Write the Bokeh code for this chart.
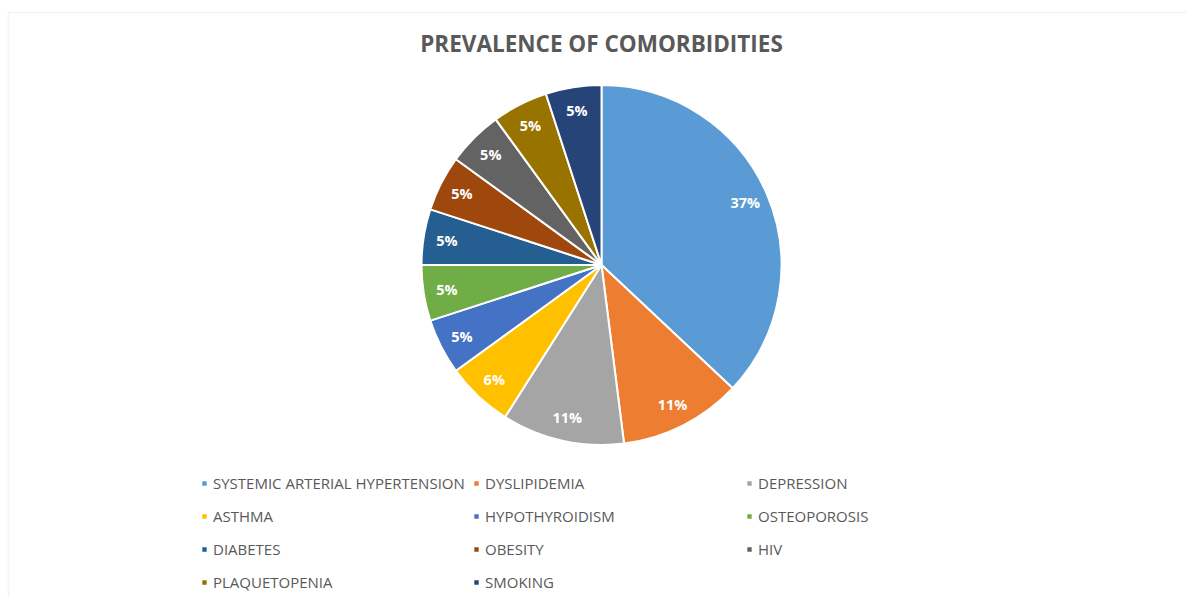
import math
from bokeh.plotting import figure
from bokeh.models import Range1d, Label, Legend, LegendItem, BoxAnnotation, ColumnDataSource
from bokeh.core.properties import value
from bokeh.embed import file_html
from bokeh.resources import INLINE

# ---- data ----
categories = ["SYSTEMIC ARTERIAL HYPERTENSION", "DYSLIPIDEMIA", "DEPRESSION", "ASTHMA",
              "HYPOTHYROIDISM", "OSTEOPOROSIS", "DIABETES", "OBESITY", "HIV",
              "PLAQUETOPENIA", "SMOKING"]
percentages = [37, 11, 11, 6, 5, 5, 5, 5, 5, 5, 5]
colors = ["#5B9BD5", "#ED7D31", "#A5A5A5", "#FFC000", "#4472C4", "#70AD47",
          "#255E91", "#9E480E", "#636363", "#997300", "#264478"]
title_text = "PREVALENCE OF COMORBIDITIES"

W, H = 1186, 598
CX, CY, R = 601, H - 264.5, 180
LABEL_F = 0.87

total = sum(percentages)
starts, ends, lx, ly, labels = [], [], [], [], []
cum = 0.0
for v in percentages:
    a0 = math.pi / 2 - 2 * math.pi * cum / total
    a1 = math.pi / 2 - 2 * math.pi * (cum + v) / total
    am = (a0 + a1) / 2
    starts.append(a0)
    ends.append(a1)
    lx.append(CX + LABEL_F * R * math.cos(am))
    ly.append(CY + LABEL_F * R * math.sin(am))
    labels.append(f"{v}%")
    cum += v

src = ColumnDataSource(dict(cat=categories, val=percentages, color=colors,
                            start=starts, end=ends, lx=lx, ly=ly, lab=labels,
                            x=[CX] * len(categories), y=[CY] * len(categories)))

p = figure(width=W, height=H, x_range=Range1d(0, W), y_range=Range1d(0, H),
           output_backend="svg", toolbar_location=None, min_border=0,
           outline_line_color=None, background_fill_color="white")
p.axis.visible = False
p.grid.visible = False

# outer chart frame
p.add_layout(BoxAnnotation(left=8, right=W + 20, bottom=-20, top=H - 12,
                           fill_alpha=0, line_color="#D9D9D9", line_width=1.5))

wedges = p.wedge(x="x", y="y", radius=R, start_angle="start", end_angle="end",
                 direction="clock", fill_color="color", line_color="white",
                 line_width=2, source=src)

p.text(x="lx", y="ly", text="lab", source=src, text_color="white",
       text_font=value("Open Sans"), text_font_style="bold", text_font_size="14.5px",
       text_align="center", text_baseline="middle")

p.add_layout(Label(x=CX, y=H - 43, text=title_text, text_align="center",
                   text_baseline="middle", text_font="Open Sans", text_font_style="bold",
                   text_font_size="22.5px", text_color="#595959"))

# legend: 3 columns, row-major order
col_x = [200, 472, 745]
for c in range(3):
    idx = list(range(c, len(categories), 3))
    items = [LegendItem(label=categories[i], renderers=[wedges], index=i) for i in idx]
    n = len(idx)
    height = n * 20 + (n - 1) * 13
    leg = Legend(items=items, location=(col_x[c], H - 472.5 - height),
                 orientation="vertical", padding=0, margin=0, spacing=13,
                 label_height=20, glyph_height=8, glyph_width=8, label_standoff=5,
                 border_line_color=None, background_fill_alpha=0,
                 label_text_font="Open Sans", label_text_font_size="15px",
                 label_text_color="#595959")
    p.add_layout(leg, "center")

open("out.html", "w").write(file_html(p, INLINE))
